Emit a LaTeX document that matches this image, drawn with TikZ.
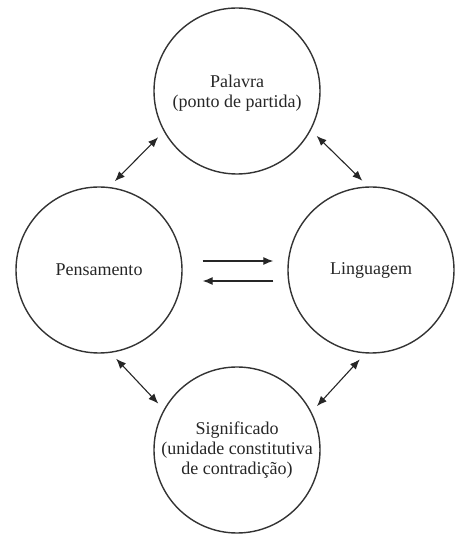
\documentclass[tikz,border=0pt]{standalone}
\usepackage{fontspec}
\setmainfont{Liberation Serif}
\usetikzlibrary{arrows.meta}

\begin{document}
\begin{tikzpicture}[x=1pt, y=1pt,
	conceito/.style={draw=black!80, line width=1.4pt, circle, minimum size=166pt, inner sep=0pt},
	rotulo/.style={align=center, text=black!85, font=\fontsize{18}{20}\selectfont},
	seta/.style={draw=black!85, line width=1.1pt, arrows={Latex[length=10pt,width=8pt]-Latex[length=10pt,width=8pt]}, shorten <=8pt, shorten >=8pt},
	ida/.style={draw=black!85, line width=1.1pt, arrows={-Latex[length=10pt,width=8pt]}}]
	\useasboundingbox (0,0) rectangle (455,538);
	% circles
	\node[conceito] (pal) at (237,447) {};
	\node[conceito] (pen) at (99,268) {};
	\node[conceito] (lin) at (371,268) {};
	\node[conceito] (sig) at (237,88) {};
	\node[rotulo] (paltxt) at ([yshift=-2pt]pal) {Palavra\\(ponto de partida)};
	\node[rotulo] (pentxt) at (pen) {Pensamento};
	\node[rotulo] (lintxt) at (lin) {Linguagem};
	\node[rotulo] (sigtxt) at (sig) {Significado\\(unidade constitutiva\\de contradição)};
	% links
	\draw[seta] (pen.83) -- (pal.209);
	\draw[seta] (pal.332) -- (lin.92);
	\draw[seta] (pen.278) -- (sig.151);
	\draw[seta] (lin.266) -- (sig.27);
	\draw[ida, shorten <=20pt, shorten >=14pt] ([yshift=9pt]pen.east) -- ([yshift=9pt]lin.west);
	\draw[ida, shorten <=14pt, shorten >=20pt] ([yshift=-11pt]lin.west) -- ([yshift=-11pt]pen.east);
\end{tikzpicture}
\end{document}
